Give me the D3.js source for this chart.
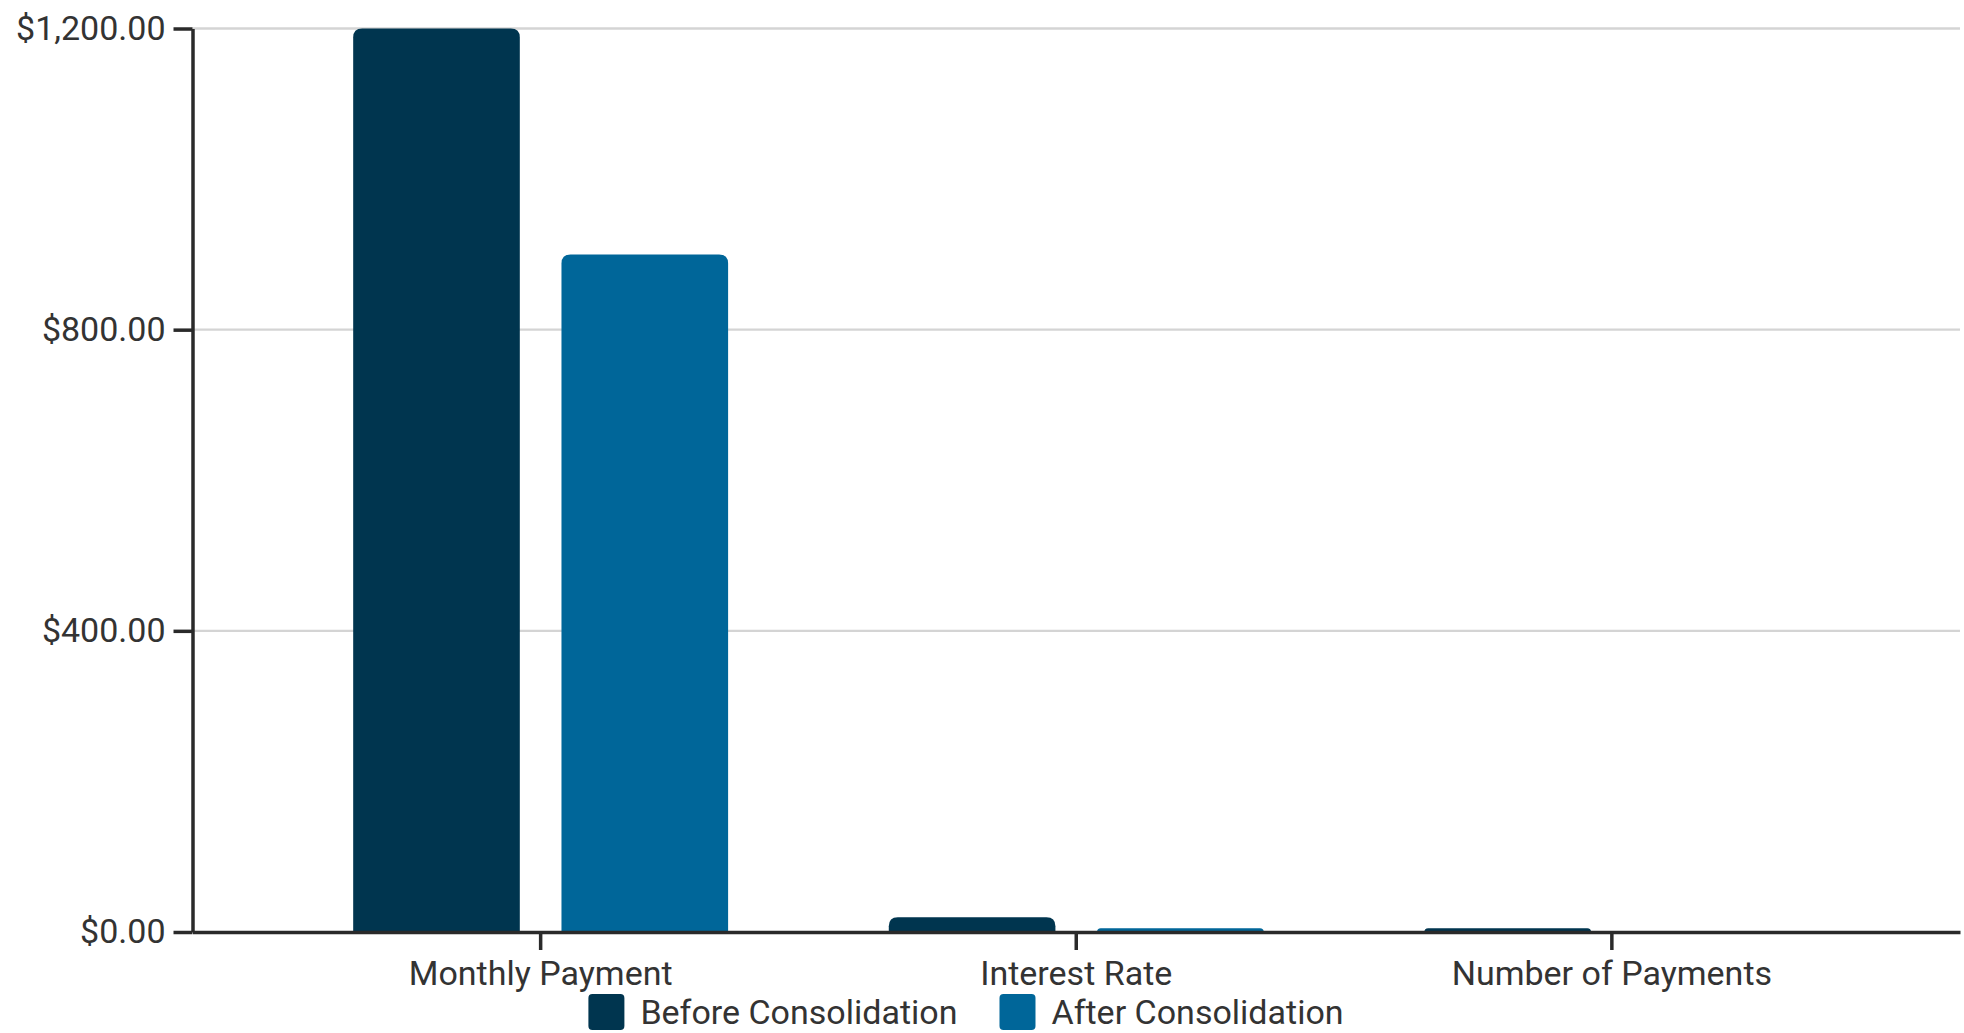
<!DOCTYPE html>
<html>
<head>
<meta charset="utf-8">
<script src="https://cdn.jsdelivr.net/npm/d3@7"></script>
<style>
  html, body { margin: 0; padding: 0; background: #fff; }
  svg { display: block; }
  text { font-family: Roboto, "Noto Sans", sans-serif; fill: #333; }
</style>
</head>
<body>
<svg id="chart" width="1964" height="1033"></svg>
<script>
const categories = ["Monthly Payment", "Interest Rate", "Number of Payments"];
const seriesNames = ["Before Consolidation", "After Consolidation"];
const beforeValues = [1200, 19.5, 5];
const afterValues = [900, 5, 1];
const yTicks = [0, 400, 800, 1200];
const colors = ["#00354f", "#006699"];

const W = 1964, H = 1033;
const margin = { left: 192.5, right: 4, top: 28.5, bottom: 101 };
const plotBottom = H - margin.bottom; // 932

const svg = d3.select("#chart");

const x0 = d3.scaleBand().domain(categories)
  .range([margin.left, W - margin.right]).padding(0.3);
const x1 = d3.scaleBand().domain(seriesNames)
  .range([0, x0.bandwidth()]).paddingInner(0.2).paddingOuter(0);
const y = d3.scaleLinear().domain([0, 1200]).range([plotBottom, margin.top]);
const color = d3.scaleOrdinal().domain(seriesNames).range(colors);

const rows = categories.map((c, i) => ({
  category: c,
  values: [
    { series: seriesNames[0], value: beforeValues[i] },
    { series: seriesNames[1], value: afterValues[i] }
  ]
}));

// gridlines
svg.append("g").selectAll("line")
  .data(yTicks.filter(d => d > 0))
  .join("line")
  .attr("x1", margin.left).attr("x2", W - margin.right)
  .attr("y1", d => y(d)).attr("y2", d => y(d))
  .attr("stroke", "#d4d4d4").attr("stroke-width", 2.3);

// bars with rounded top corners
function topRounded(x, yTop, w, h, r) {
  r = Math.min(r, h, w / 2);
  return `M${x},${yTop + h}V${yTop + r}Q${x},${yTop} ${x + r},${yTop}` +
         `H${x + w - r}Q${x + w},${yTop} ${x + w},${yTop + r}V${yTop + h}Z`;
}

svg.append("g").selectAll("g")
  .data(rows)
  .join("g")
  .attr("transform", d => `translate(${x0(d.category)},0)`)
  .selectAll("path")
  .data(d => d.values)
  .join("path")
  .attr("fill", d => color(d.series))
  .attr("d", d => topRounded(x1(d.series), y(d.value), x1.bandwidth(), y(0) - y(d.value), 9));

// y axis
const fmt = d3.format("$,.2f");
const gy = svg.append("g")
  .attr("transform", `translate(${margin.left},0)`)
  .call(d3.axisLeft(y).tickValues(yTicks).tickFormat(fmt).tickSize(19).tickPadding(8).tickSizeOuter(0));
gy.selectAll("text").attr("font-size", 34).style("font-family", "Roboto").attr("fill", "#333");
gy.selectAll("line,path").attr("stroke", "#2a2a2a").attr("stroke-width", 3.5);

// x axis
const gx = svg.append("g")
  .attr("transform", `translate(0,${plotBottom})`)
  .call(d3.axisBottom(x0).tickSize(18).tickSizeOuter(0));
gx.selectAll("text").attr("font-size", 34).style("font-family", "Roboto")
  .attr("fill", "#333").attr("dy", 0).attr("y", 53);
gx.selectAll("line,path").attr("stroke", "#2a2a2a").attr("stroke-width", 3.5);

// legend
const legend = svg.append("g");
const sw = 36, textGap = 16, itemGap = 42, legendCenter = 966, swY = 994, baseY = 1024;
const items = legend.selectAll("g").data(seriesNames).join("g");
items.append("rect").attr("width", sw).attr("height", sw).attr("rx", 4).attr("ry", 4)
  .attr("y", swY).attr("fill", d => color(d));
items.append("text").attr("x", sw + textGap).attr("y", baseY)
  .attr("font-size", 34).text(d => d);
let widths = [];
items.each(function () {
  widths.push(sw + textGap + d3.select(this).select("text").node().getComputedTextLength());
});
const total = d3.sum(widths) + itemGap * (widths.length - 1);
let cx = legendCenter - total / 2;
items.attr("transform", (d, i) => {
  const t = `translate(${cx},0)`;
  cx += widths[i] + itemGap;
  return t;
});
</script>
</body>
</html>
